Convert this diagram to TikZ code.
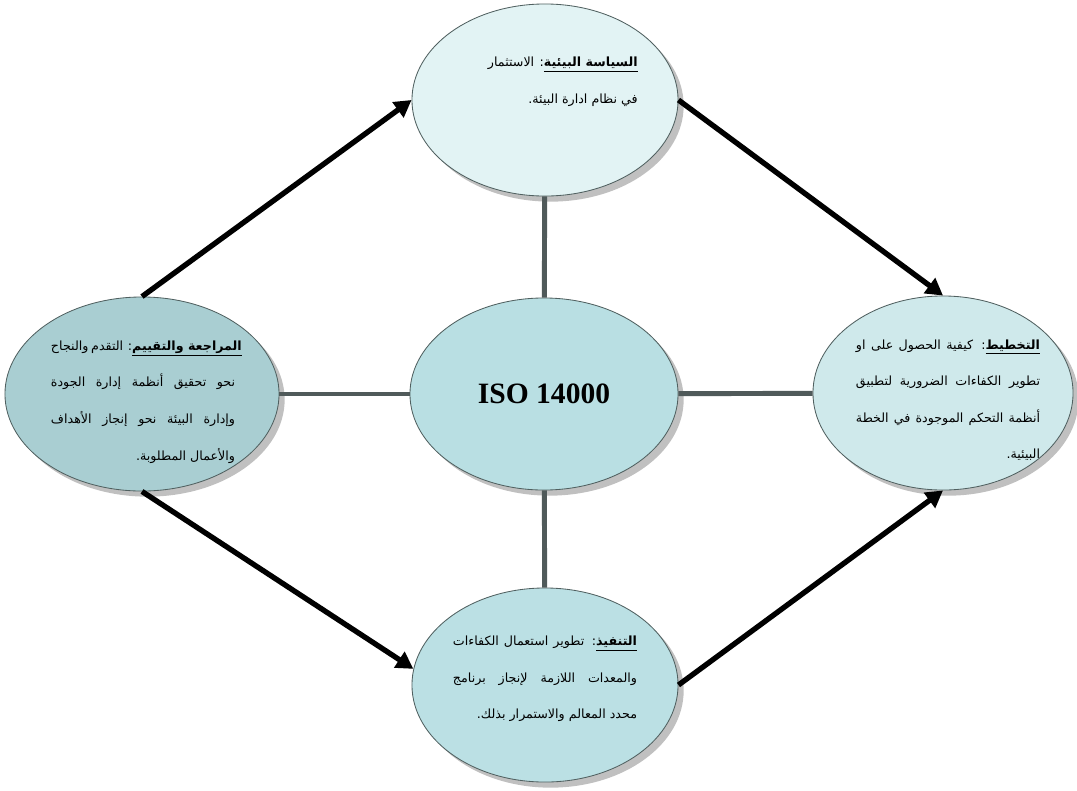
\documentclass[tikz,border=0pt]{standalone}
\usepackage{fontspec}
\setmainfont{Liberation Serif}
\newfontfamily\arabicfont[Script=Arabic]{DejaVu Sans}
\TeXXeTstate=1
\usetikzlibrary{shapes.geometric,arrows.meta,shadows}
\definecolor{policyCyan}{RGB}{226,243,244}
\definecolor{coreCyan}{RGB}{185,223,227}
\definecolor{reviewTeal}{RGB}{169,206,210}
\definecolor{planCyan}{RGB}{207,233,235}
\definecolor{doCyan}{RGB}{187,224,228}
\definecolor{edgeSlate}{RGB}{80,96,96}
\definecolor{linkSlate}{RGB}{80,90,90}
\definecolor{shadowGray}{RGB}{192,192,192}
\newlength\arwidth
\setlength\arwidth{4.6cm}
\newcommand{\arline}[1]{\hbox to \arwidth{\beginR #1\endR}}
\newcommand{\arlast}[1]{\beginR #1\endR}
\newcommand{\arhead}[1]{\underline{\beginR\textbf{#1}\endR}}
\begin{document}
\begin{tikzpicture}[x=0.025cm, y=-0.025cm,
    zone/.style={ellipse, draw=edgeSlate, line width=0.6pt, inner sep=0pt,
      drop shadow={shadow xshift=4pt, shadow yshift=-4pt, fill=shadowGray, opacity=1}},
    txt/.style={font=\arabicfont\fontsize{9}{26}\selectfont, align=right, inner sep=0pt},
    link/.style={draw=linkSlate, line width=3.5pt},
    flow/.style={draw=black, line width=3.8pt, -{Triangle[length=12pt,width=13pt]}}
  ]
    \useasboundingbox (0,0) rectangle (1077,790);
    % the five ellipses
    \node[zone, fill=policyCyan, minimum width=6.65cm, minimum height=4.8cm] (policy) at (545,100) {};
    \node[zone, fill=coreCyan, minimum width=6.7cm, minimum height=4.8cm,
      font=\bfseries\fontsize{21}{24}\selectfont] (core) at (544,394) {ISO 14000};
    \node[zone, fill=reviewTeal, minimum width=6.85cm, minimum height=4.85cm] (review) at (142,394) {};
    \node[zone, fill=planCyan, minimum width=6.5cm, minimum height=4.85cm] (planning) at (943,393) {};
    \node[zone, fill=doCyan, minimum width=6.65cm, minimum height=4.85cm] (implement) at (545,685) {};
    % texts
    \node[txt, anchor=east] (policyText) at (638,82) {\arlast{\arhead{السياسة البيئية}: الاستثمار}\\
      \arlast{في نظام ادارة البيئة.}};
    \node[txt] (reviewText) at (143,402) {\arline{\arhead{المراجعة والتقييم}: التقدم والنجاح}\\
      \arline{نحو تحقيق أنظمة إدارة الجودة}\\
      \arline{وإدارة البيئة نحو إنجاز الأهداف}\\
      \arlast{والأعمال المطلوبة.}};
    \node[txt] (planningText) at (948,400) {\arline{\arhead{التخطيط}: كيفية الحصول على او}\\
      \arline{تطوير الكفاءات الضرورية لتطبيق}\\
      \arline{أنظمة التحكم الموجودة في الخطة}\\
      \arlast{البيئية.}};
    \node[txt] (implementText) at (545,679) {\arline{\arhead{التنفيذ}: تطوير استعمال الكفاءات}\\
      \arline{والمعدات اللازمة لإنجاز برنامج}\\
      \arlast{محدد المعالم والاستمرار بذلك.}};
    % spokes to the centre
    \draw[link] (policy) -- (core);
    \draw[link] (review) -- (core);
    \draw[link] (core) -- (planning);
    \draw[link] (core) -- (implement);
    % cycle arrows
    \draw[flow] (review.north) -- (policy.west);
    \draw[flow] (policy.east) -- (planning.north);
    \draw[flow] (implement.east) -- (planning.south);
    \draw[flow] (review.south) -- (implement.173);
  \end{tikzpicture}
\end{document}
